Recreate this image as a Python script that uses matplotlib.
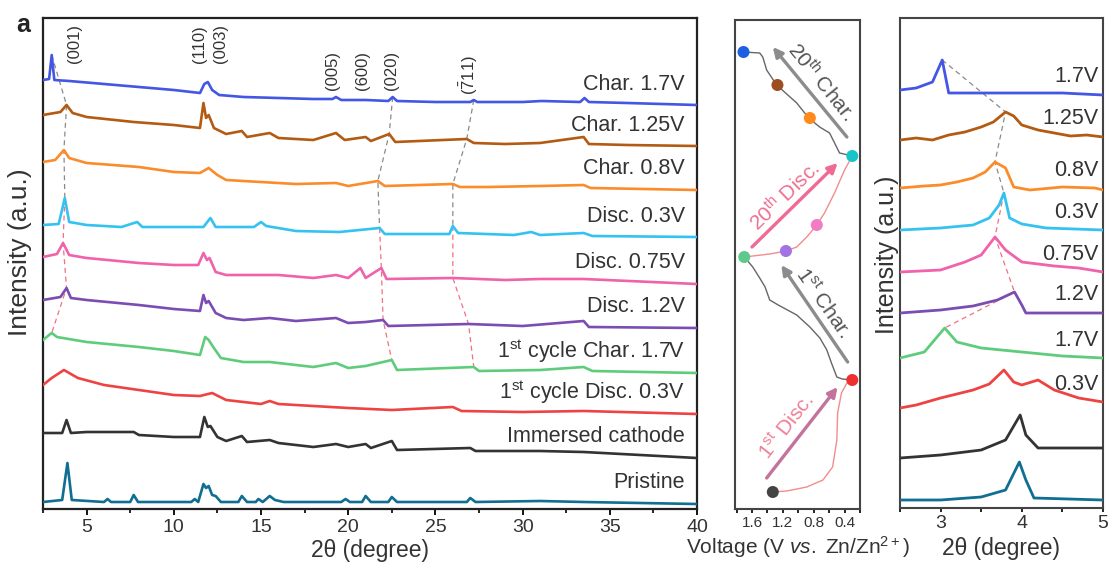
import matplotlib
matplotlib.use("Agg")
import matplotlib.pyplot as plt
from matplotlib.ticker import MultipleLocator
import numpy as np

plt.rcParams['font.family'] = ['Liberation Sans', 'DejaVu Sans']
plt.rcParams['mathtext.fontset'] = 'custom'
plt.rcParams['mathtext.rm'] = 'Liberation Sans'
plt.rcParams['mathtext.it'] = 'Liberation Sans:italic'
plt.rcParams['mathtext.bf'] = 'Liberation Sans:bold'

TXT = '#333333'

# ---------------- XRD patterns, 2.5-40 deg (top to bottom) ----------------
labels_main = ['Char. 1.7V', 'Char. 1.25V', 'Char. 0.8V', 'Disc. 0.3V', 'Disc. 0.75V',
               'Disc. 1.2V', r'1$^{\mathrm{st}}$ cycle Char. 1.7V',
               r'1$^{\mathrm{st}}$ cycle Disc. 0.3V', 'Immersed cathode', 'Pristine']
colors = ['#4456e4', '#b35b12', '#fb8c2c', '#34c2f0', '#f062aa',
          '#7b4db3', '#5fcc7c', '#ee4343', '#333333', '#0f6e91']
offsets_main = [404, 363, 320, 272, 226, 181, 137, 96, 52, 5]

c17_x = [2.5, 2.85, 3.0, 3.15, 4, 6, 8, 10, 11.5, 11.75, 11.95, 12.2, 12.6, 14, 16, 18, 19.1, 19.3,
         19.6, 21, 22.3, 22.55, 22.8, 25, 27.0, 27.2, 27.4, 30, 31.1, 33.3, 33.55, 33.8, 36, 40]
c17_y = [25, 26, 50, 25, 24, 21, 18, 15, 12, 21, 23, 15, 10, 8, 7, 6, 6, 8,
         5, 5, 4, 8, 4, 3, 3, 5, 3, 3, 4, 3, 7, 3, 2, 0]

c125_x = [2.5, 3.5, 3.85, 4.2, 5, 7.7, 10, 11.5, 11.7, 11.85, 12.0, 12.3, 13, 13.9, 14.2, 15.5,
          16, 18, 19.3, 19.8, 21, 21.3, 22.35, 22.7, 26.8, 27.2, 29, 31, 33.5, 33.8, 36, 40]
c125_y = [31, 34, 41, 33, 29, 24, 21, 18, 43, 28, 31, 18, 12, 15, 9, 13,
          8, 6, 13, 6, 9, 5, 12, 4, 7, 3, 2, 3, 9, 2, 1, 0]

c08_x = [2.5, 3.2, 3.7, 4.0, 5, 8, 10, 11.5, 12.0, 12.5, 13, 15, 17, 19.3, 20, 21.7, 22.1,
         26.0, 26.4, 28, 31, 33.5, 33.9, 40]
c08_y = [27, 29, 39, 31, 26, 22, 17, 16, 21, 14, 9, 7, 5, 6, 3, 8, 3,
         5, 2, 2, 3, 4, 1, -1]

d03_x = [2.5, 3.4, 3.75, 4.0, 5, 7, 7.9, 8.2, 10, 11.7, 12.1, 12.4, 14.6, 15.0, 15.3, 17, 19.5,
         21.8, 22.1, 25.8, 26.0, 26.3, 29.5, 30.5, 31, 33.5, 34, 40]
d03_y = [12, 13, 39, 15, 12, 10, 15, 10, 10, 10, 19, 10, 10, 15, 11, 6, 5,
         9, 3, 3, 11, 4, 2, 5, 2, 4, 1, 0]

d075_x = [2.5, 3.3, 3.65, 4.0, 5, 8, 10, 11.4, 11.7, 11.9, 12.05, 12.4, 13, 16, 18, 19.3, 20,
          20.7, 21.0, 21.9, 22.2, 26.0, 29, 31, 33.5, 40]
d075_y = [26, 29, 40, 28, 25, 20, 18, 18, 30, 23, 25, 11, 8, 8, 5, 8, 5,
          15, 5, 15, 4, 5, 3, 4, 4, -1]

d12_x = [2.5, 3.5, 3.85, 4.1, 5, 8, 10, 11.5, 11.7, 11.85, 12.0, 12.4, 13, 14, 15.5, 17, 19.3,
         20, 21, 22.0, 22.3, 26.9, 30, 33.5, 33.8, 40]
d12_y = [28, 31, 40, 30, 28, 23, 19, 17, 33, 25, 27, 15, 10, 8, 10, 7, 10,
         5, 6, 8, 2, 4, 2, 7, 1, 0]

fc_x = [2.5, 2.85, 3.0, 3.3, 5, 8, 10, 11.5, 11.8, 12.0, 12.3, 12.7, 14, 15.5, 18, 19.3, 20,
        21, 22.5, 22.8, 27.2, 27.5, 31, 33.5, 34, 40]
fc_y = [32, 37, 39, 35, 30, 25, 21, 17, 35, 32, 24, 14, 10, 10, 5, 9, 4,
        6, 12, 2, 5, 1, 2, 5, 1, -1]

fd_x = [2.5, 3.0, 3.7, 4.5, 6, 8, 10, 11.5, 12.2, 13, 15, 15.5, 16, 18, 20, 22.5, 26.0, 26.5,
        30, 33.5, 40]
fd_y = [28, 35, 43, 35, 28, 23, 18, 17, 20, 13, 9, 12, 9, 7, 5, 3, 6, 2,
        1, 2, -1]

imm_x = [2.5, 3.6, 3.85, 4.1, 5, 7.7, 8, 10, 11.5, 11.75, 11.95, 12.1, 12.5, 13, 13.9, 14.2,
         15.5, 16, 18, 19.3, 20, 21, 21.3, 22.5, 22.8, 27.0, 27.3, 31, 33.5, 40]
imm_y = [24, 24, 37, 24, 25, 25, 22, 20, 20, 40, 30, 31, 20, 16, 21, 15,
         17, 14, 10, 13, 10, 13, 9, 16, 7, 9, 6, 6, 5, -1]

pri_x = [2.5, 3.6, 3.9, 4.15, 6.0, 6.2, 6.4, 7.5, 7.7, 7.95, 11.0, 11.2, 11.4, 11.7, 11.85,
         12.0, 12.2, 12.4, 12.7, 13.7, 13.9, 14.2, 14.7, 14.85, 15.1, 15.5, 15.8, 16.3, 19.6,
         19.85, 20.1, 20.8, 21.0, 21.3, 22.3, 22.5, 22.8, 26.8, 27.0, 27.3, 31, 33.5, 40]
pri_y = [2, 4, 41, 4, 2, 5, 2, 2, 9, 2, 2, 5, 2, 20, 16,
         18, 9, 8, 2, 2, 8, 2, 2, 5, 2, 8, 4, 2, 2,
         5, 2, 2, 8, 2, 2, 7, 2, 2, 6, 2, 3, 2, 0]

main_x = [c17_x, c125_x, c08_x, d03_x, d075_x, d12_x, fc_x, fd_x, imm_x, pri_x]
main_y = [c17_y, c125_y, c08_y, d03_y, d075_y, d12_y, fc_y, fd_y, imm_y, pri_y]

# peak positions followed by the dashed guides (first seven patterns)
pos_020 = [22.55, 22.35, 21.7, 21.8, 21.9, 22.0, 22.5]
pos_711 = [27.2, 26.8, 26.0, 26.0, 26.0, 26.9, 27.2]

hkl_labels = ['(001)', '(110)', '(003)', '(005)', '(600)', '(020)', r'$\mathrm{(\bar{7}11)}$']
hkl_pos = [4.3, 11.5, 12.65, 19.1, 20.8, 22.5, 26.9]
hkl_h = [446, 446, 446, 419, 419, 419, 414]

# ---------------- voltage profile (middle panel) ----------------
dot_v = [1.71, 1.27, 0.85, 0.30, 0.76, 1.16, 1.70, 0.30, 1.33]
dot_t = [457, 424, 391, 353, 284, 258, 252, 129, 17]
dot_c = ['#1f60e0', '#9c4f22', '#ff8a1c', '#17c5c9', '#f27cc4', '#a274e2', '#5ec98a', '#ee3030', '#444444']

ch20_v = [0.30, 0.465, 0.594, 0.723, 0.865, 1.02, 1.28, 1.41, 1.46, 1.50, 1.71]
ch20_t = [353, 356, 376, 382, 391, 406, 424, 439, 452, 456, 457]
dc20_v = [0.30, 0.40, 0.53, 0.66, 0.76, 0.89, 1.02, 1.16, 1.37, 1.59, 1.70]
dc20_t = [353, 339, 316, 296, 284, 272, 262, 258, 255, 253, 252]
ch1_v = [1.70, 1.59, 1.50, 1.43, 1.37, 1.26, 1.02, 0.85, 0.72, 0.63, 0.57, 0.50, 0.43, 0.30]
ch1_t = [252, 242, 231, 222, 209, 204, 194, 182, 171, 159, 146, 132, 130, 129]
dc1_v = [1.33, 1.15, 0.89, 0.68, 0.555, 0.50, 0.49, 0.44, 0.37, 0.30]
dc1_t = [17, 18, 22, 29, 42, 69, 96, 116, 126, 129]

# ---------------- zoom on (001), 2.5-5 deg ----------------
labels_zoom = ['1.7V', '1.25V', '0.8V', '0.3V', '0.75V', '1.2V', '1.7V', '0.3V']
offsets_zoom = [413, 371, 320, 278, 236, 195, 150, 106, 60, 8]

zc17_x = [2.5, 2.7, 2.9, 3.02, 3.1, 3.3, 4.0, 4.5, 5.0]
zc17_y = [5, 7, 13, 35, 2, 2, 2, 2, 0]
zc125_x = [2.5, 2.7, 2.9, 3.1, 3.3, 3.5, 3.65, 3.8, 3.9, 4.0, 4.2, 4.4, 4.6, 4.8, 5.0]
zc125_y = [-3, -1, -3, 2, 5, 10, 15, 25, 21, 12, 7, 4, 1, 2, 0]
zc08_x = [2.5, 2.8, 3.0, 3.2, 3.4, 3.55, 3.67, 3.8, 3.9, 4.1, 4.5, 4.9, 5.0]
zc08_y = [0, 2, 3, 6, 10, 16, 26, 20, 1, -2, 1, 0, -2]
zd03_x = [2.5, 3.0, 3.4, 3.6, 3.72, 3.78, 3.85, 4.0, 4.3, 5.0]
zd03_y = [0, 2, 5, 12, 25, 37, 12, 6, 2, 0]
zd075_x = [2.5, 3.0, 3.3, 3.5, 3.67, 3.8, 4.0, 4.4, 4.7, 5.0]
zd075_y = [0, 2, 10, 17, 35, 22, 10, 6, 4, 0]
zd12_x = [2.5, 3.0, 3.4, 3.7, 3.91, 4.0, 4.05, 4.5, 5.0]
zd12_y = [0, 3, 7, 13, 21, 8, 0, 0, 0]
zfc_x = [2.5, 2.8, 3.05, 3.2, 3.5, 4.0, 4.5, 5.0]
zfc_y = [0, 6, 30, 16, 10, 6, 2, 0]
zfd_x = [2.5, 2.7, 3.0, 3.4, 3.6, 3.78, 3.9, 4.0, 4.2, 4.4, 4.7, 5.0]
zfd_y = [-6, -3, 4, 12, 18, 32, 20, 17, 22, 12, 4, 0]
zimm_x = [2.5, 3.0, 3.5, 3.8, 3.98, 4.05, 4.2, 5.0]
zimm_y = [-10, -7, -2, 8, 33, 13, 0, 0]
zpri_x = [2.5, 3.0, 3.5, 3.8, 3.97, 4.05, 4.15, 5.0]
zpri_y = [0, 0, 3, 10, 38, 20, 2, 0]

zoom_x = [zc17_x, zc125_x, zc08_x, zd03_x, zd075_x, zd12_x, zfc_x, zfd_x, zimm_x, zpri_x]
zoom_y = [zc17_y, zc125_y, zc08_y, zd03_y, zd075_y, zd12_y, zfc_y, zfd_y, zimm_y, zpri_y]

GRAY_DASH = '#8a8a8a'
PINK_DASH = '#f07080'


def peak_of(xs, ys, off, lo, hi):
    xs = np.asarray(xs); ys = np.asarray(ys)
    m = (xs >= lo) & (xs <= hi)
    i = np.argmax(ys[m])
    return xs[m][i], ys[m][i] + off


def guides(ax, pts):
    px, py = zip(*pts)
    ax.plot(px[:4], py[:4], ls=(0, (4, 3)), color=GRAY_DASH, lw=0.9, zorder=1)
    ax.plot(px[3:], py[3:], ls=(0, (4, 3)), color=PINK_DASH, lw=0.9, zorder=1)


fig = plt.figure(figsize=(11.1, 5.72), dpi=100)

# ---- main panel
ax = fig.add_axes([43 / 1110, 63 / 572, 654 / 1110, 491 / 572])
for xs, ys, off, c in zip(main_x, main_y, offsets_main, colors):
    ax.plot(xs, np.asarray(ys) + off, color=c, lw=1.9, zorder=3)
for lab, off in zip(labels_main, offsets_main):
    ax.text(39.3, off + 21, lab, ha='right', va='center', fontsize=15.5, color=TXT)

guides(ax, [peak_of(main_x[i], main_y[i], offsets_main[i], 2.5, 4.6) for i in range(7)])
for pos in (pos_020, pos_711):
    guides(ax, [(p, np.interp(p, main_x[i], main_y[i]) + offsets_main[i]) for i, p in enumerate(pos)])

for lab, p, h in zip(hkl_labels, hkl_pos, hkl_h):
    ax.text(p, h, lab, rotation=90, ha='center', va='bottom', fontsize=12, color=TXT)

ax.set_xlim(2.5, 40)
ax.set_ylim(0, 491)
ax.set_yticks([])
ax.xaxis.set_major_locator(MultipleLocator(5))
ax.xaxis.set_minor_locator(MultipleLocator(2.5))
ax.tick_params(axis='x', which='major', direction='out', length=4, width=1.3, labelsize=14,
               labelcolor=TXT, pad=3)
ax.tick_params(axis='x', which='minor', direction='out', length=3, width=1.2)
for s in ax.spines.values():
    s.set_linewidth(1.6)
    s.set_color('#222222')
ax.set_xlabel('2θ (degree)', fontsize=16.5, color=TXT, labelpad=2)
fig.text(20 / 1110, 1 - 252 / 572, 'Intensity (a.u.)', rotation=90, ha='center', va='center',
         fontsize=19, color=TXT)
fig.text(23 / 1110, 1 - 25 / 572, 'a', ha='center', va='center', fontsize=18, fontweight='bold',
         color='#222222')

# ---- voltage panel
axv = fig.add_axes([735 / 1110, 63 / 572, 125 / 1110, 489 / 572])
axv.plot(ch20_v, ch20_t, color='#666666', lw=1.0, zorder=2)
axv.plot(ch1_v, ch1_t, color='#666666', lw=1.0, zorder=2)
axv.plot(dc20_v, dc20_t, color='#f38c8c', lw=1.0, zorder=2)
axv.plot(dc1_v, dc1_t, color='#f38c8c', lw=1.0, zorder=2)
axv.scatter(dot_v, dot_t, s=75, c=dot_c, zorder=4, edgecolors='none')

arrows = [((0.37, 372), (1.33, 462), '#8c8c8c'),
          ((1.60, 262), (0.49, 346), '#ef6a94'),
          ((0.36, 147), (1.22, 244), '#8c8c8c'),
          ((1.41, 31), (0.49, 122), '#c2749c')]
for tail, head, c in arrows:
    axv.annotate('', xy=head, xytext=tail,
                 arrowprops=dict(arrowstyle='-|>', color=c, lw=2.4, mutation_scale=14,
                                 shrinkA=0, shrinkB=0))
axv.text(0.70, 427, r'20$^{\mathrm{th}}$ Char.', rotation=-51, rotation_mode='anchor',
         ha='center', va='center', fontsize=15, color='#555555')
axv.text(1.17, 313, r'20$^{\mathrm{th}}$ Disc.', rotation=44, rotation_mode='anchor',
         ha='center', va='center', fontsize=15, color='#ee7090')
axv.text(0.67, 206, r'1$^{\mathrm{st}}$ Char.', rotation=-55, rotation_mode='anchor',
         ha='center', va='center', fontsize=15, color='#555555')
axv.text(1.15, 82, r'1$^{\mathrm{st}}$ Disc.', rotation=52, rotation_mode='anchor',
         ha='center', va='center', fontsize=15, color='#ef7f98')

axv.set_xlim(1.82, 0.2)
axv.set_ylim(0, 489)
axv.set_yticks([])
axv.set_xticks([1.6, 1.2, 0.8, 0.4])
axv.set_xticklabels(['1.6', '1.2', '0.8', '0.4'])
axv.xaxis.set_minor_locator(MultipleLocator(0.2))
axv.tick_params(axis='x', which='both', direction='out', length=3, width=1.2, labelsize=11,
                labelcolor=TXT, pad=2)
for s in axv.spines.values():
    s.set_linewidth(1.5)
    s.set_color('#444444')
axv.set_xlabel(r'Voltage (V $\it{vs.}$ Zn/Zn$^{2+}$)', fontsize=15, color=TXT, labelpad=3)

# ---- (001) zoom panel
axz = fig.add_axes([900 / 1110, 64 / 572, 203 / 1110, 490 / 572])
for xs, ys, off, c in zip(zoom_x, zoom_y, offsets_zoom, colors):
    axz.plot(xs, np.asarray(ys) + off, color=c, lw=2.0, zorder=3)
for lab, off in zip(labels_zoom, offsets_zoom):
    axz.text(4.95, off + 18, lab, ha='right', va='center', fontsize=15.5, color=TXT)
guides(axz, [peak_of(zoom_x[i], zoom_y[i], offsets_zoom[i], 2.5, 5.0) for i in range(7)])

axz.set_xlim(2.5, 5)
axz.set_ylim(0, 490)
axz.set_yticks([])
axz.set_xticks([3, 4, 5])
axz.xaxis.set_minor_locator(MultipleLocator(0.5))
axz.tick_params(axis='x', which='both', direction='out', length=3, width=1.2, labelsize=14,
                labelcolor=TXT, pad=2)
for s in axz.spines.values():
    s.set_linewidth(1.5)
    s.set_color('#444444')
axz.set_xlabel('2θ (degree)', fontsize=16.5, color=TXT, labelpad=4)
fig.text(887 / 1110, 1 - 255 / 572, 'Intensity (a.u.)', rotation=90, ha='center', va='center',
         fontsize=18, color=TXT)

fig.savefig('out.png', dpi=100)
